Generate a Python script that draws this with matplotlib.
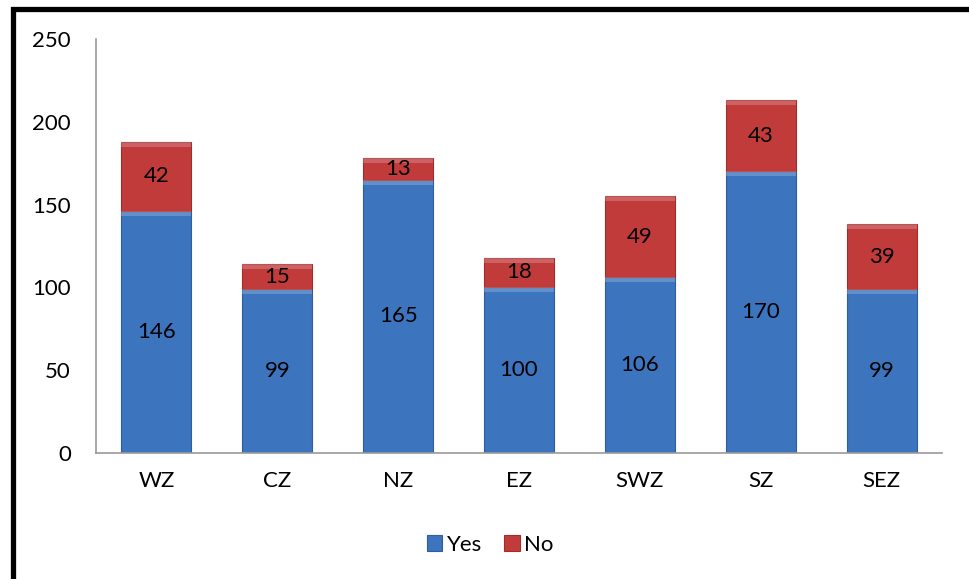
import matplotlib.pyplot as plt
from matplotlib.patches import Rectangle
import numpy as np

zones = ["WZ", "CZ", "NZ", "EZ", "SWZ", "SZ", "SEZ"]
yes_counts = [146, 99, 165, 100, 106, 170, 99]
no_counts = [42, 15, 13, 18, 49, 43, 39]

blue = "#3D74BE"
red = "#C23B3B"

plt.rcParams["font.family"] = ["Lato", "DejaVu Sans"]

fig = plt.figure(figsize=(9.69, 5.79), dpi=100)
ax = fig.add_axes([96 / 969, 1 - 453 / 579, 846 / 969, 414 / 579])

x = np.arange(len(zones))
width = 0.58
bars_yes = ax.bar(x, yes_counts, width, color=blue, edgecolor="#2F5E9E", linewidth=0.8, label="Yes", zorder=2)
bars_no = ax.bar(x, no_counts, width, bottom=yes_counts, color=red, edgecolor="#9E2E2E", linewidth=0.8, label="No", zorder=2)

# light bevel strip on top of each segment
for b in list(bars_yes) + list(bars_no):
    ax.add_patch(Rectangle((b.get_x(), b.get_y() + b.get_height() - 3), b.get_width(), 3,
                           facecolor="white", alpha=0.2, edgecolor="none", zorder=3))

for b, v in zip(bars_yes, yes_counts):
    ax.text(b.get_x() + b.get_width() / 2, b.get_y() + b.get_height() / 2, str(v),
            ha="center", va="center", fontsize=16, zorder=4)
for b, v in zip(bars_no, no_counts):
    ax.text(b.get_x() + b.get_width() / 2, b.get_y() + b.get_height() / 2, str(v),
            ha="center", va="center", fontsize=16, zorder=4)

ax.set_xlim(-0.5, len(zones) - 0.5)
ax.set_ylim(0, 250)
ax.set_yticks(np.arange(0, 251, 50))
ax.set_xticks(x)
ax.set_xticklabels(zones)
ax.tick_params(axis="both", length=0, labelsize=16)
ax.tick_params(axis="y", pad=18)
ax.tick_params(axis="x", pad=13)
for side in ["top", "right"]:
    ax.spines[side].set_visible(False)
for side in ["left", "bottom"]:
    ax.spines[side].set_color("#9A9A9A")
    ax.spines[side].set_linewidth(1.2)

ax.legend(loc="center", bbox_to_anchor=(490 / 969, 1 - 545 / 579), bbox_transform=fig.transFigure,
          ncol=2, frameon=False, fontsize=16, handlelength=0.7, handleheight=0.7,
          handletextpad=0.2, columnspacing=1.0)

# black frame on the left and top edge of the image
fig.add_artist(Rectangle((12.5 / 969, -0.1), 1.2, 1.1 - 9.5 / 579, transform=fig.transFigure,
                         facecolor="none", edgecolor="black", linewidth=3.8, clip_on=False))

fig.savefig("out.png", dpi=100)
